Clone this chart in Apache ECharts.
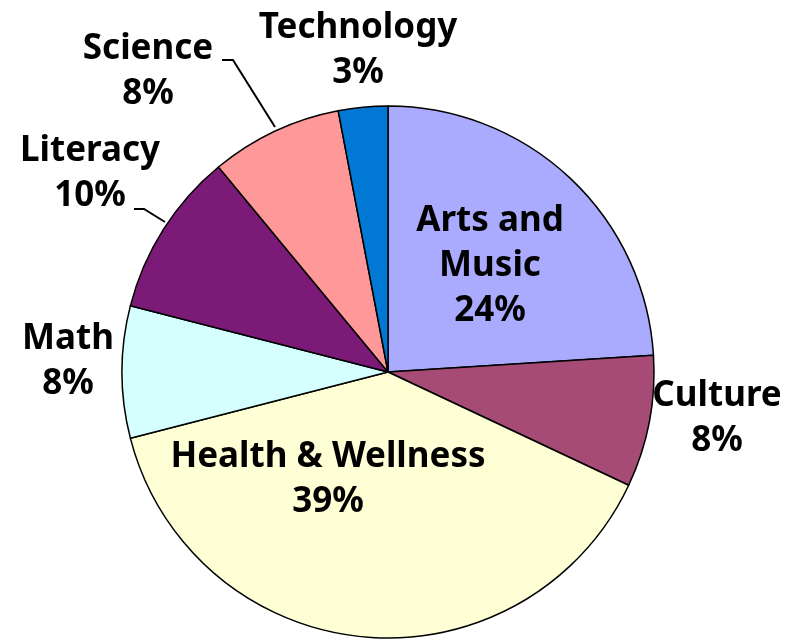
<!DOCTYPE html>
<html>
<head>
<meta charset="utf-8">
<script src="https://cdn.jsdelivr.net/npm/echarts@6/dist/echarts.min.js"></script>
<style>
  html, body { margin: 0; padding: 0; background: #ffffff; }
  #chart { width: 785px; height: 639px; }
</style>
</head>
<body>
<div id="chart"></div>
<script>
// Data
const categories = ["Arts and\nMusic", "Culture", "Health & Wellness", "Math", "Literacy", "Science", "Technology"];
const values = [24, 8, 39, 8, 10, 8, 3];
const colors = ["#AAAAFF", "#A64B76", "#FFFFD6", "#D5FFFF", "#7B1A77", "#FF9999", "#0078D4"];

// Label placement (styling, not data)
const labelPos = [
  { x: 490, y: 266 },
  { x: 717, y: 419 },
  { x: 328, y: 480 },
  { x: 68,  y: 362 },
  { x: 90,  y: 174 },
  { x: 148, y: 72 },
  { x: 358, y: 51 }
];
const leaders = {
  4: [[134, 209], [144, 209], [165, 222]],
  5: [[222, 60], [233, 60], [275, 127]]
};

const chart = echarts.init(document.getElementById('chart'), null, { renderer: 'canvas' });
chart.setOption({
  animation: false,
  backgroundColor: '#ffffff',
  series: [{
    type: 'pie',
    center: [388, 372],
    radius: [0, 266],
    startAngle: 90,
    clockwise: true,
    avoidLabelOverlap: false,
    percentPrecision: 0,
    itemStyle: { borderColor: '#000000', borderWidth: 1.5 },
    label: {
      show: true,
      position: 'outside',
      formatter: p => p.name + '\n' + Math.round(p.percent) + '%',
      fontFamily: '"Noto Sans", sans-serif',
      fontWeight: 'bold',
      fontSize: 35,
      lineHeight: 45,
      color: '#000000',
      align: 'center'
    },
    labelLine: {
      show: true,
      lineStyle: { color: '#000000', width: 2 }
    },
    labelLayout: function (params) {
      const i = params.dataIndex;
      const res = {
        x: labelPos[i].x,
        y: labelPos[i].y,
        align: 'center',
        verticalAlign: 'middle'
      };
      if (leaders[i]) res.labelLinePoints = leaders[i];
      else res.labelLinePoints = [[0, 0], [0, 0], [0, 0]];
      return res;
    },
    emphasis: { disabled: true },
    data: categories.map((c, i) => ({
      name: c,
      value: values[i],
      itemStyle: { color: colors[i] },
      labelLine: { show: !!leaders[i] }
    }))
  }]
});
</script>
</body>
</html>
